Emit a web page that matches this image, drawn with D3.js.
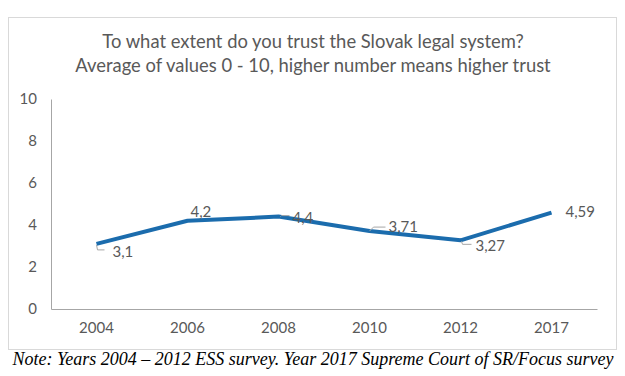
<!DOCTYPE html>
<meta charset="utf-8">
<body style="margin:0;background:#fff">
<script src="https://d3js.org/d3.v7.min.js"></script>
<script>
var years = ["2004", "2006", "2008", "2010", "2012", "2017"];
var trust = [3.1, 4.2, 4.4, 3.71, 3.27, 4.59];
var labels = ["3,1", "4,2", "4,4", "3,71", "3,27", "4,59"];
var yTicks = [0, 2, 4, 6, 8, 10];
var titleLines = ["To what extent do you trust the Slovak legal system?",
                  "Average of values 0 - 10, higher number means higher trust"];
var note = "Note: Years 2004 \u2013 2012 ESS survey. Year 2017 Supreme Court of SR/Focus survey";

var width = 625, height = 376;
var grey = "#595959";

var svg = d3.select("body").append("svg")
    .attr("width", width)
    .attr("height", height)
    .style("font-family", "Lato, 'Open Sans', sans-serif");

// chart frame
svg.append("rect")
    .attr("x", 8.5).attr("y", 17.5)
    .attr("width", 608).attr("height", 332)
    .attr("fill", "#fff")
    .attr("stroke", "#d9d9d9");

svg.selectAll("text.title")
    .data(titleLines)
  .enter().append("text")
    .attr("class", "title")
    .attr("x", 313)
    .attr("y", function(d, i) { return 48 + i * 24; })
    .attr("text-anchor", "middle")
    .attr("fill", grey)
    .style("font-size", "18.4px")
    .text(function(d) { return d; });

var x = d3.scaleBand().domain(years).range([51, 597]);
var y = d3.scaleLinear().domain([0, 10]).range([309, 99]);

// y axis
var yAxis = svg.append("g")
    .attr("transform", "translate(51,0)")
    .call(d3.axisLeft(y).tickValues(yTicks).tickSize(0).tickPadding(14));
yAxis.select(".domain").attr("stroke", "#a6a6a6");
yAxis.selectAll("text").attr("fill", grey).style("font-size", "15px").style("font-family", "Lato");

// x axis
var xAxis = svg.append("g")
    .attr("transform", "translate(0,309)")
    .call(d3.axisBottom(x).tickSize(0).tickPadding(13));
xAxis.select(".domain").attr("stroke", "#a6a6a6");
xAxis.selectAll("text").attr("fill", grey).style("font-size", "15px").style("font-family", "Lato");

var line = d3.line()
    .x(function(d, i) { return x(years[i]) + x.bandwidth() / 2; })
    .y(function(d) { return y(d); });

svg.append("path")
    .datum(trust)
    .attr("d", line)
    .attr("fill", "none")
    .attr("stroke", "#1b6cad")
    .attr("stroke-width", 4)
    .attr("stroke-linejoin", "round");

// label offsets relative to the point: [dx, dy] of the label start, and leader line
var labelOff = [[16, 13], [3, -4], [14, 6], [19, 1], [15, 11], [14, 4]];
var leaders = [
  function(px, py) { return [[px, py + 1], [px + 1, py + 6], [px + 8, py + 6]]; },
  null,
  function(px, py) { return [[px + 2, py], [px + 3, py - 1], [px + 11, py - 1]]; },
  function(px, py) { return [[px, py], [px + 4, py - 4], [px + 16, py - 4]]; },
  function(px, py) { return [[px + 1, py + 1], [px + 2, py + 4], [px + 11, py + 4]]; },
  null
];

trust.forEach(function(v, i) {
  var px = x(years[i]) + x.bandwidth() / 2, py = y(v);
  if (leaders[i]) {
    svg.append("path")
      .attr("d", d3.line()(leaders[i](px, py)))
      .attr("fill", "none")
      .attr("stroke", "#a6a6a6")
      .attr("stroke-width", 1);
  }
  svg.append("text")
    .attr("x", px + labelOff[i][0])
    .attr("y", py + labelOff[i][1])
    .attr("fill", grey)
    .style("font-size", "15px")
    .text(labels[i]);
});

svg.append("text")
    .attr("x", 313)
    .attr("y", 365)
    .attr("text-anchor", "middle")
    .style("font-family", "'Liberation Serif', 'DejaVu Serif', serif")
    .style("font-style", "italic")
    .style("font-size", "18px")
    .attr("fill", "#000")
    .text(note);
</script>
</body>
